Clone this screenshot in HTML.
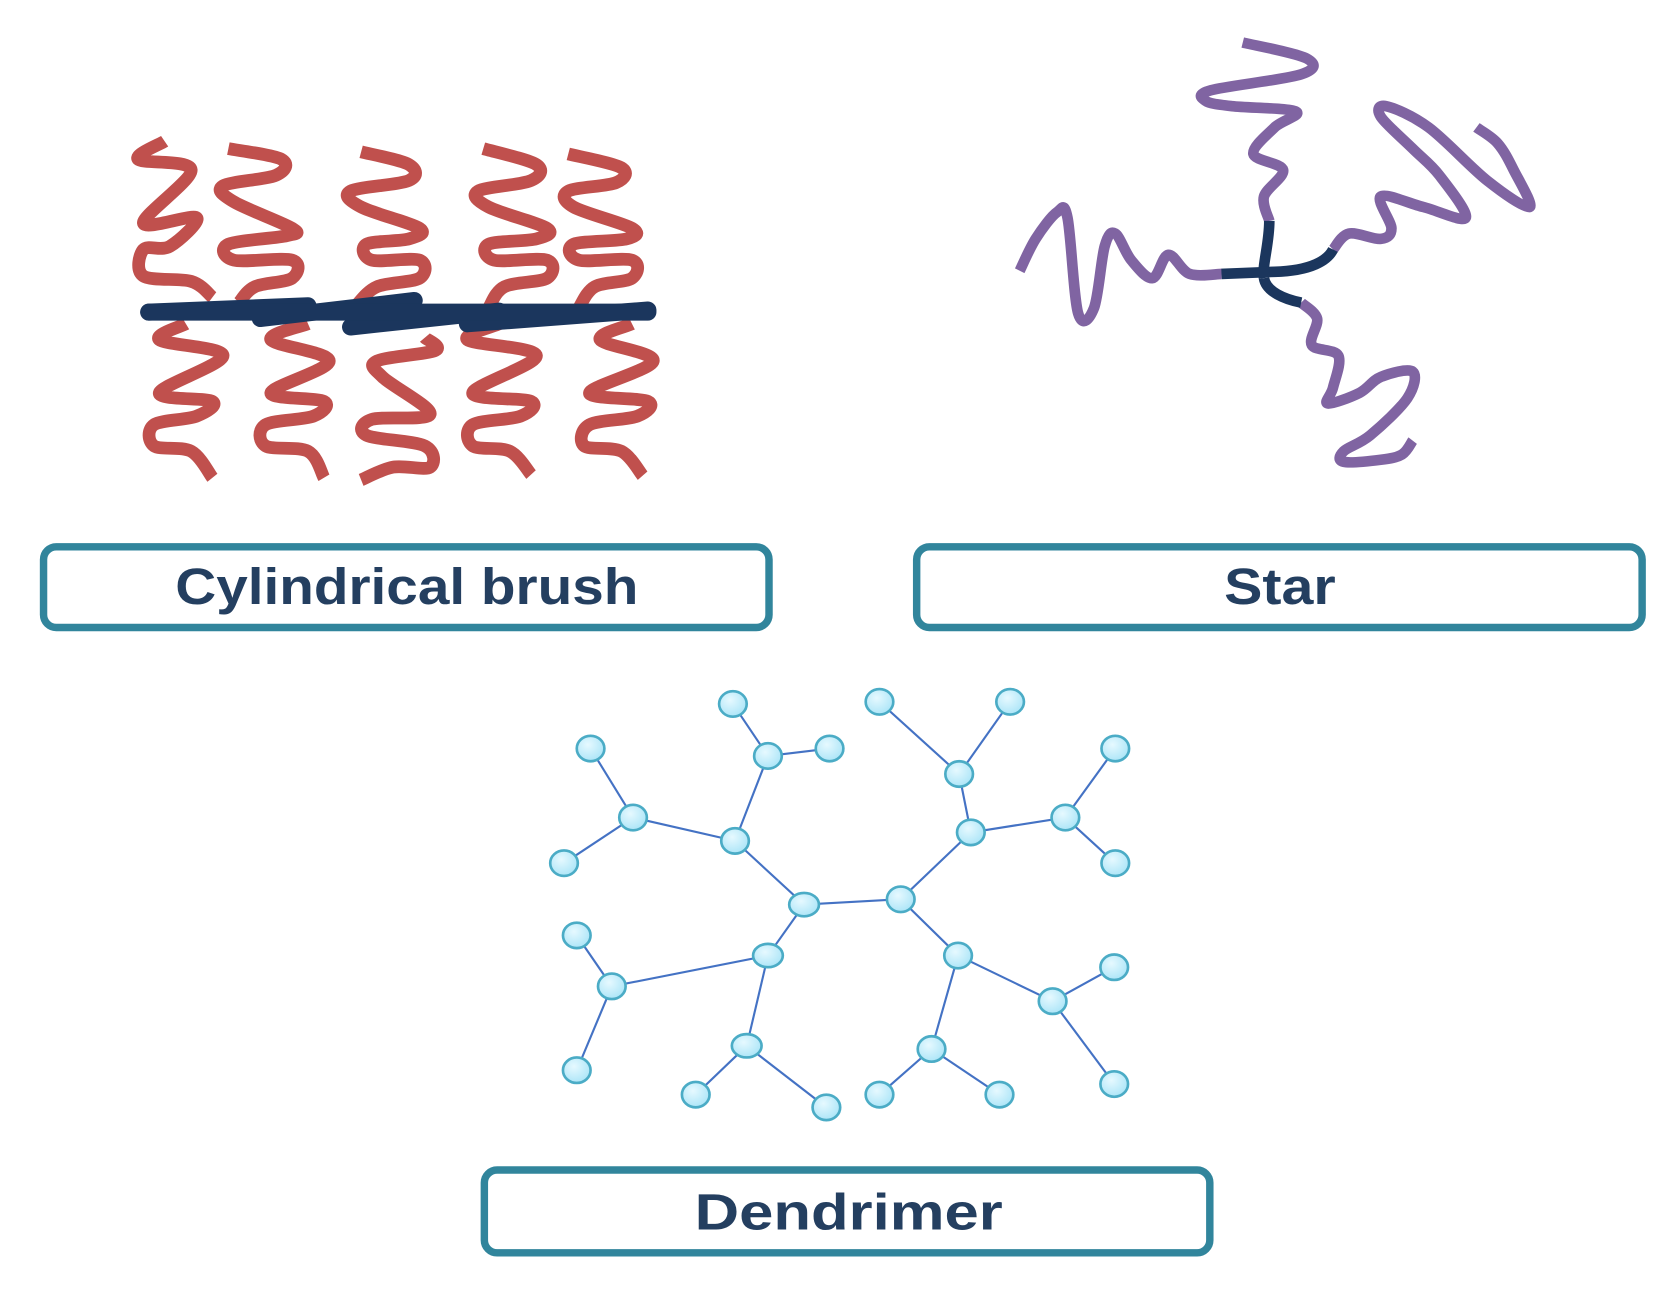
<!DOCTYPE html>
<html><head><meta charset="utf-8"><style>html,body{margin:0;padding:0;background:#fff}svg{display:block}</style></head>
<body>
<svg id="s" width="1657" height="1290" viewBox="0 0 1560 1215" preserveAspectRatio="none" xmlns="http://www.w3.org/2000/svg">
<defs><radialGradient id="g" cx="40%" cy="35%" r="70%"><stop offset="0" stop-color="#e6f9ff"/><stop offset="1" stop-color="#a9e4f7"/></radialGradient></defs>
<g fill="none" stroke="#c0504d" stroke-width="12" stroke-linejoin="round" stroke-linecap="butt">
<polyline class="c" points="155,133 130,150 180,160 135,210 185,205 160,232 135,235 135,260 180,265 200,280"/>
<polyline class="c" points="215,140 265,150 260,165 210,175 220,190 275,215 270,222 215,230 220,245 275,245 275,262 240,270 225,285"/>
<polyline class="c" points="340,143 385,155 385,170 330,180 340,195 395,215 385,225 345,230 350,245 395,245 395,262 355,270 335,288"/>
<polyline class="c" points="455,140 505,155 500,170 450,180 460,195 515,215 505,225 460,230 465,245 515,245 515,262 475,270 460,290"/>
<polyline class="c" points="535,145 585,158 580,172 535,180 540,195 595,215 590,225 540,230 545,245 595,245 595,262 560,270 545,290"/>
<polyline class="c" points="175,305 150,320 210,335 150,370 200,378 185,392 145,400 145,420 180,425 200,450"/>
<polyline class="c" points="290,305 255,320 310,340 255,370 305,378 295,392 250,400 250,420 290,425 305,450"/>
<polyline class="c" points="400,318 410,330 355,340 360,355 405,390 350,395 345,410 400,420 405,440 370,440 340,452"/>
<polyline class="c" points="470,305 440,320 505,335 445,370 500,378 490,392 445,400 445,420 480,425 500,447"/>
<polyline class="c" points="595,305 565,320 615,340 555,370 610,378 600,392 555,400 550,420 585,425 605,448"/>
</g>
<g stroke="#1b365d" stroke-width="16" stroke-linecap="round" fill="none">
<line x1="140" y1="294" x2="290" y2="288"/><line x1="245" y1="300" x2="390" y2="283"/>
<line x1="330" y1="308" x2="470" y2="293"/><line x1="440" y1="305" x2="610" y2="292"/>
<line x1="140" y1="294" x2="610" y2="294"/>
</g>
<g fill="none" stroke="#8064a2" stroke-width="10" stroke-linejoin="round">
<polyline class="c" points="1195,208 1190,185 1208,160 1180,145 1200,120 1220,105 1160,100 1135,95 1140,85 1225,70 1230,55 1170,40"/>
<polyline class="c" points="1150,258 1120,258 1100,240 1085,262 1065,245 1050,220 1040,232 1030,290 1015,295 1005,205 995,200 975,225 960,255"/>
<polyline class="c" points="1255,235 1270,220 1300,225 1310,215 1300,185 1340,195 1380,205 1355,165 1330,140 1300,110 1305,100 1345,120 1400,170 1440,195 1425,160 1410,135 1390,120"/>
<polyline class="c" points="1225,285 1240,300 1235,325 1260,335 1255,365 1250,380 1280,370 1300,355 1330,350 1325,375 1290,410 1265,425 1265,435 1300,433 1320,428 1330,415"/>
</g>
<g fill="none" stroke="#1b365d" stroke-width="10">
<path d="M1195,208 C1195,230 1188,250 1190,262"/>
<path d="M1150,258 L1200,256 C1235,255 1250,245 1255,235"/>
<path d="M1190,262 C1192,275 1210,282 1225,285"/>
</g>
<g stroke="#4472c4" stroke-width="2">
<line x1="757" y1="852" x2="848" y2="847"/>
<line x1="757" y1="852" x2="692" y2="792"/><line x1="757" y1="852" x2="723" y2="900"/>
<line x1="848" y1="847" x2="914" y2="784"/><line x1="848" y1="847" x2="902" y2="900"/>
<line x1="692" y1="792" x2="596" y2="770"/><line x1="692" y1="792" x2="723" y2="712"/>
<line x1="596" y1="770" x2="556" y2="705"/><line x1="596" y1="770" x2="531" y2="813"/>
<line x1="723" y1="712" x2="690" y2="663"/><line x1="723" y1="712" x2="781" y2="705"/>
<line x1="723" y1="900" x2="576" y2="929"/><line x1="723" y1="900" x2="703" y2="985"/>
<line x1="576" y1="929" x2="543" y2="881"/><line x1="576" y1="929" x2="543" y2="1008"/>
<line x1="703" y1="985" x2="655" y2="1031"/><line x1="703" y1="985" x2="778" y2="1043"/>
<line x1="914" y1="784" x2="903" y2="729"/><line x1="914" y1="784" x2="1003" y2="770"/>
<line x1="903" y1="729" x2="828" y2="661"/><line x1="903" y1="729" x2="951" y2="661"/>
<line x1="1003" y1="770" x2="1050" y2="705"/><line x1="1003" y1="770" x2="1050" y2="813"/>
<line x1="902" y1="900" x2="877" y2="988"/><line x1="902" y1="900" x2="991" y2="943"/>
<line x1="877" y1="988" x2="828" y2="1031"/><line x1="877" y1="988" x2="941" y2="1031"/>
<line x1="991" y1="943" x2="1049" y2="911"/><line x1="991" y1="943" x2="1049" y2="1021"/>
</g>
<g fill="url(#g)" stroke="#4bacc6" stroke-width="2.5">
<ellipse cx="757" cy="852" rx="14" ry="11"/><ellipse cx="848" cy="847" rx="13" ry="12"/>
<ellipse cx="692" cy="792" rx="13" ry="12"/><ellipse cx="723" cy="900" rx="14" ry="11"/>
<ellipse cx="914" cy="784" rx="13" ry="12"/><ellipse cx="902" cy="900" rx="13" ry="12"/>
<ellipse cx="596" cy="770" rx="13" ry="12"/><ellipse cx="723" cy="712" rx="13" ry="12"/>
<ellipse cx="556" cy="705" rx="13" ry="12"/><ellipse cx="531" cy="813" rx="13" ry="12"/>
<ellipse cx="690" cy="663" rx="13" ry="12"/><ellipse cx="781" cy="705" rx="13" ry="12"/>
<ellipse cx="576" cy="929" rx="13" ry="12"/><ellipse cx="703" cy="985" rx="14" ry="11"/>
<ellipse cx="543" cy="881" rx="13" ry="12"/><ellipse cx="543" cy="1008" rx="13" ry="12"/>
<ellipse cx="655" cy="1031" rx="13" ry="12"/><ellipse cx="778" cy="1043" rx="13" ry="12"/>
<ellipse cx="903" cy="729" rx="13" ry="12"/><ellipse cx="1003" cy="770" rx="13" ry="12"/>
<ellipse cx="828" cy="661" rx="13" ry="12"/><ellipse cx="951" cy="661" rx="13" ry="12"/>
<ellipse cx="1050" cy="705" rx="13" ry="12"/><ellipse cx="1050" cy="813" rx="13" ry="12"/>
<ellipse cx="877" cy="988" rx="13" ry="12"/><ellipse cx="991" cy="943" rx="13" ry="12"/>
<ellipse cx="828" cy="1031" rx="13" ry="12"/><ellipse cx="941" cy="1031" rx="13" ry="12"/>
<ellipse cx="1049" cy="911" rx="13" ry="12"/><ellipse cx="1049" cy="1021" rx="13" ry="12"/>
</g>
<g fill="#fff" stroke="#31859c" stroke-width="7">
<rect x="41" y="515" width="683" height="76" rx="12"/>
<rect x="863" y="515" width="683" height="76" rx="12"/>
<rect x="456" y="1102" width="683" height="78" rx="12"/>
</g>
<g fill="#243f60" font-family="Liberation Sans, sans-serif" font-weight="bold" font-size="48" text-anchor="middle">
<text x="383" y="569" textLength="436" lengthAdjust="spacingAndGlyphs">Cylindrical brush</text>
<text x="1205" y="569" textLength="105" lengthAdjust="spacingAndGlyphs">Star</text>
<text x="799" y="1158" textLength="290" lengthAdjust="spacingAndGlyphs">Dendrimer</text>
</g>
</svg>
<script>
document.querySelectorAll('polyline.c').forEach(function(pl){
  var n=pl.getAttribute('points').trim().split(/\s+/).map(function(s){return s.split(',').map(Number);});
  var d='M'+n[0][0]+','+n[0][1];
  for(var i=0;i<n.length-1;i++){
    var p0=n[i-1]||n[i],p1=n[i],p2=n[i+1],p3=n[i+2]||p2;
    var c1=[p1[0]+(p2[0]-p0[0])/6,p1[1]+(p2[1]-p0[1])/6];
    var c2=[p2[0]-(p3[0]-p1[0])/6,p2[1]-(p3[1]-p1[1])/6];
    d+=' C'+c1[0]+','+c1[1]+' '+c2[0]+','+c2[1]+' '+p2[0]+','+p2[1];
  }
  var p=document.createElementNS('http://www.w3.org/2000/svg','path');
  p.setAttribute('d',d);
  pl.parentNode.replaceChild(p,pl);
});
</script>
</body></html>
